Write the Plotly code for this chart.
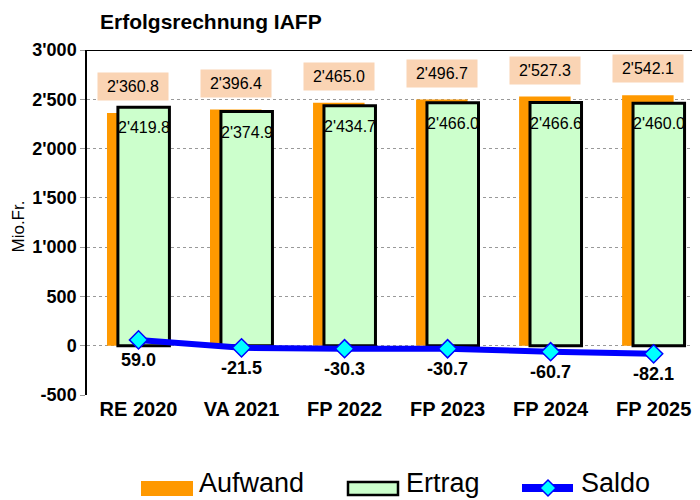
import plotly.graph_objects as go

categories = ["RE 2020", "VA 2021", "FP 2022", "FP 2023", "FP 2024", "FP 2025"]
aufwand = [2360.8, 2396.4, 2465.0, 2496.7, 2527.3, 2542.1]
ertrag = [2419.8, 2374.9, 2434.7, 2466.0, 2466.6, 2460.0]
saldo = [59.0, -21.5, -30.3, -30.7, -60.7, -82.1]
ytick_vals = [-500, 0, 500, 1000, 1500, 2000, 2500, 3000]
ytick_text = ["-500", "0", "500", "1'000", "1'500", "2'000", "2'500", "3'000"]
legend_names = ["Aufwand", "Ertrag", "Saldo"]

ORANGE = "#FF9900"
GREEN = "#CCFFCC"
PEACH = "#FAD4B4"
BLUE = "#0000FF"
CYAN = "#00FFFF"
FONT = "Arial, Liberation Sans, sans-serif"

# the page body has an 8px margin: the figure starts at (8, 8) in the window
OFF = 8
FIG_W, FIG_H = 700 - OFF, 500 - OFF
# plot area in window pixels
L, R, T, B = 87, 700, 50, 395
W, H = R - L, B - T


def px(x):
    return (x - L) / W


def py(y):
    return (B - y) / H


def fmt(v):
    s = f"{abs(v):,.1f}".replace(",", "'")
    return ("-" if v < 0 else "") + s


fig = go.Figure()
fig.add_trace(go.Bar(
    x=categories, y=aufwand, name=legend_names[0],
    marker=dict(color=ORANGE, line=dict(width=0)),
    width=0.5, offset=-0.306,
))
fig.add_trace(go.Bar(
    x=categories, y=ertrag, name=legend_names[1],
    marker=dict(color=GREEN, line=dict(color="black", width=3)),
    width=0.5, offset=-0.2,
))
fig.add_trace(go.Scatter(
    x=categories, y=saldo, name=legend_names[2], mode="lines+markers",
    line=dict(color=BLUE, width=6),
    marker=dict(symbol="diamond", size=14, color=CYAN,
                line=dict(color=BLUE, width=1.5)),
    cliponaxis=False,
))

annotations = []
for c, a, e, s in zip(categories, aufwand, ertrag, saldo):
    annotations.append(dict(
        x=c, y=a, xref="x", yref="y", text=fmt(a), showarrow=False,
        xshift=-5.5, yshift=12, yanchor="bottom",
        bgcolor=PEACH, borderpad=0, width=70, height=27,
        font=dict(family=FONT, size=16, color="black"),
    ))
    annotations.append(dict(
        x=c, y=e, xref="x", yref="y", text=fmt(e), showarrow=False,
        xshift=5, yshift=-10, yanchor="top",
        font=dict(family=FONT, size=16, color="black"),
    ))
    annotations.append(dict(
        x=c, y=s, xref="x", yref="y", text="<b>" + fmt(s) + "</b>",
        showarrow=False, yshift=-20, yanchor="middle",
        font=dict(family=FONT, size=18, color="black"),
    ))

# y-axis title
annotations.append(dict(
    x=px(18.5), y=py(227), xref="paper", yref="paper", text="Mio.Fr.",
    textangle=-90, showarrow=False, xanchor="center", yanchor="middle",
    font=dict(family=FONT, size=17, color="black"),
))

# custom legend
shapes = [
    dict(type="line", xref="paper", yref="y", x0=0, x1=1, y0=3000, y1=3000,
         line=dict(color="black", width=2)),
    dict(type="rect", xref="paper", yref="paper", x0=px(141), x1=px(193),
         y0=py(496), y1=py(481), fillcolor=ORANGE, line=dict(width=0)),
    dict(type="rect", xref="paper", yref="paper", x0=px(348), x1=px(398),
         y0=py(495), y1=py(482), fillcolor=GREEN,
         line=dict(color="black", width=2.5)),
    dict(type="line", xref="paper", yref="paper", x0=px(522), x1=px(573),
         y0=py(488), y1=py(488), line=dict(color=BLUE, width=8)),
    dict(type="path", xref="paper", yref="paper",
         xsizemode="pixel", ysizemode="pixel",
         xanchor=px(548), yanchor=py(488),
         path="M -8 0 L 0 8 L 8 0 L 0 -8 Z",
         fillcolor=CYAN, line=dict(color=BLUE, width=1.5)),
]
for name, xl in zip(legend_names, [197, 404, 579]):
    annotations.append(dict(
        x=px(xl), y=py(499.5), xref="paper", yref="paper", text=name,
        showarrow=False, xanchor="left", yanchor="bottom",
        font=dict(family=FONT, size=27, color="black"),
    ))

fig.update_layout(
    width=FIG_W, height=FIG_H,
    margin=dict(l=L - OFF, r=700 - R, t=T - OFF, b=500 - B, autoexpand=False),
    paper_bgcolor="white", plot_bgcolor="white",
    barmode="overlay",
    font=dict(family=FONT, color="black"),
    title=dict(text="<b>Erfolgsrechnung IAFP</b>", x=(100 - OFF) / FIG_W,
               xanchor="left", xref="container",
               y=1 - (22 - OFF) / FIG_H, yref="container",
               yanchor="middle", font=dict(size=21, family=FONT)),
    showlegend=False,
    annotations=annotations,
    shapes=shapes,
)
fig.update_xaxes(
    range=[-0.5, 5.45], showgrid=False, zeroline=False, showline=False,
    tickfont=dict(size=20, family=FONT), ticks="", automargin=False,
    tickvals=categories, ticktext=["<b>" + c + "</b>" for c in categories],
)
fig.update_yaxes(
    range=[-500, 3000], tickvals=ytick_vals,
    ticktext=["<b>" + t + "</b>" for t in ytick_text],
    tickfont=dict(size=18, family=FONT), automargin=False,
    showgrid=True, gridcolor="#999999", griddash="dot", gridwidth=1,
    zeroline=False, showline=True, linecolor="black", linewidth=1.5,
    ticks="outside", ticklen=5, tickcolor="#999999",
)

fig.write_html("out.html")
